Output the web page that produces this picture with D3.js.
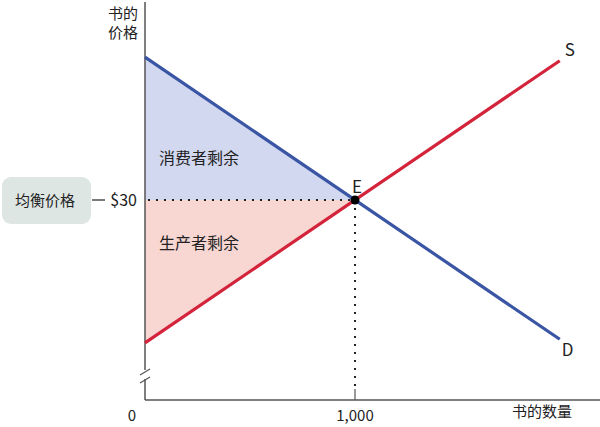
<!DOCTYPE html>
<meta charset="utf-8">
<script src="https://d3js.org/d3.v7.min.js"></script>
<style>
  body { margin: 0; background: #fff; }
  text { font-family: "Noto Sans CJK SC", "Noto Sans", sans-serif; fill: #222; }
</style>
<div id="chart"></div>
<script>
  // data
  const qDomain = [0, 2000];
  const pDomain = [2, 58];
  const demand = [[0, 50], [1975, 10.5]];
  const supply = [[0, 10], [1975, 49.5]];
  const equilibrium = { q: 1000, p: 30 };
  const xTicks = [{ v: 0, label: "0" }, { v: 1000, label: "1,000" }];
  const labels = { xTitle: "书的数量", yTitle: ["书的", "价格"], eq: "均衡价格", price: "$30",
                   cs: "消费者剩余", ps: "生产者剩余", s: "S", d: "D", e: "E" };

  const W = 600, H = 427;
  const svg = d3.select("#chart").append("svg").attr("width", W).attr("height", H);

  const x = d3.scaleLinear().domain(qDomain).range([145, 565]);
  const y = d3.scaleLinear().domain(pDomain).range([400, 0]);

  const blue = "#3a55a4", red = "#d3243b";

  // surplus areas
  const poly = d3.line().x(d => x(d[0])).y(d => y(d[1]));
  svg.append("path")
    .attr("d", poly([[0, demand[0][1]], [equilibrium.q, equilibrium.p], [0, equilibrium.p]]) + "Z")
    .attr("fill", "#d2d8ef");
  svg.append("path")
    .attr("d", poly([[0, equilibrium.p], [equilibrium.q, equilibrium.p], [0, supply[0][1]]]) + "Z")
    .attr("fill", "#f8d6d2");

  // axes
  svg.append("line").attr("x1", x(0)).attr("x2", W).attr("y1", 400).attr("y2", 400)
    .attr("stroke", "#555").attr("stroke-width", 1.5);
  svg.append("line").attr("x1", x(0)).attr("x2", x(0)).attr("y1", 2).attr("y2", 370)
    .attr("stroke", "#555").attr("stroke-width", 1.5);
  svg.append("line").attr("x1", x(0)).attr("x2", x(0)).attr("y1", 379).attr("y2", 400)
    .attr("stroke", "#555").attr("stroke-width", 1.5);
  [372, 380].forEach(yy => {
    svg.append("line").attr("x1", x(0) - 5).attr("x2", x(0) + 5)
      .attr("y1", yy + 3).attr("y2", yy - 3)
      .attr("stroke", "#555").attr("stroke-width", 1.2);
  });

  // dotted guide lines
  svg.append("line").attr("x1", x(0) + 3).attr("x2", x(equilibrium.q))
    .attr("y1", y(equilibrium.p)).attr("y2", y(equilibrium.p))
    .attr("stroke", "#222").attr("stroke-width", 2).attr("stroke-dasharray", "2,6");
  svg.append("line").attr("x1", x(equilibrium.q)).attr("x2", x(equilibrium.q))
    .attr("y1", y(equilibrium.p) + 8).attr("y2", 388)
    .attr("stroke", "#222").attr("stroke-width", 2).attr("stroke-dasharray", "2,6");
  svg.append("line").attr("x1", x(equilibrium.q)).attr("x2", x(equilibrium.q))
    .attr("y1", 389).attr("y2", 400).attr("stroke", "#555").attr("stroke-width", 1.2);

  // curves
  svg.append("path").attr("d", poly(demand)).attr("stroke", blue).attr("stroke-width", 3.2).attr("fill", "none");
  svg.append("path").attr("d", poly(supply)).attr("stroke", red).attr("stroke-width", 3.2).attr("fill", "none");

  svg.append("circle").attr("cx", x(equilibrium.q)).attr("cy", y(equilibrium.p)).attr("r", 4.5).attr("fill", "#000");

  // labels
  svg.append("text").attr("x", x(equilibrium.q) + 2).attr("y", 193).attr("text-anchor", "middle")
    .style("font-size", "17px").text(labels.e);
  svg.append("text").attr("x", x(supply[1][0]) + 5).attr("y", y(supply[1][1]) - 5)
    .style("font-size", "17px").text(labels.s);
  svg.append("text").attr("x", x(demand[1][0]) + 2).attr("y", y(demand[1][1]) + 17)
    .style("font-size", "17px").text(labels.d);

  svg.append("text").attr("x", 159).attr("y", 164).style("font-size", "16px").text(labels.cs);
  svg.append("text").attr("x", 159).attr("y", 249).style("font-size", "16px").text(labels.ps);

  svg.selectAll(".ytitle").data(labels.yTitle).join("text")
    .attr("x", 138).attr("y", (d, i) => 19 + i * 19).attr("text-anchor", "end")
    .style("font-size", "15px").text(d => d);

  svg.selectAll(".xtick").data(xTicks).join("text")
    .attr("x", d => d.v === 0 ? x(d.v) - 13 : x(d.v)).attr("y", 421)
    .attr("text-anchor", "middle").style("font-size", "15px").text(d => d.label);
  svg.append("text").attr("x", 572).attr("y", 417).attr("text-anchor", "end")
    .style("font-size", "15px").text(labels.xTitle);

  // equilibrium price box
  svg.append("rect").attr("x", 2).attr("y", 177).attr("width", 89).attr("height", 47).attr("rx", 9)
    .attr("fill", "#dee6e3");
  svg.append("text").attr("x", 45).attr("y", 206).attr("text-anchor", "middle")
    .style("font-size", "15px").text(labels.eq);
  svg.append("line").attr("x1", 92).attr("x2", 105).attr("y1", y(equilibrium.p)).attr("y2", y(equilibrium.p))
    .attr("stroke", "#333").attr("stroke-width", 1.3);
  svg.append("text").attr("x", 137).attr("y", 206).attr("text-anchor", "end")
    .style("font-size", "16px").text(labels.price);
</script>
